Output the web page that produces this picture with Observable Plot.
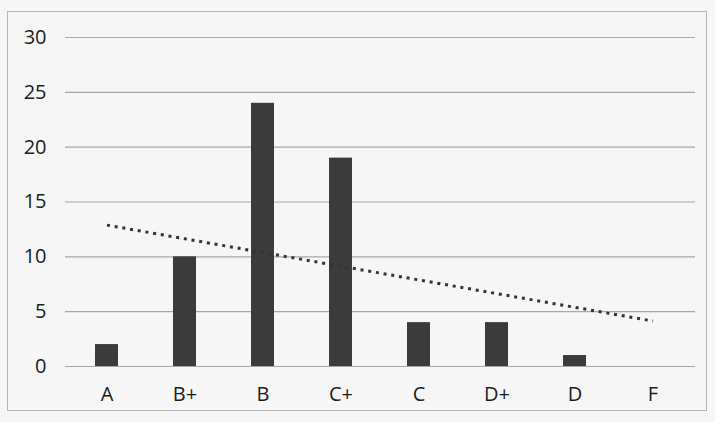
<!DOCTYPE html>
<html>
<head>
<meta charset="utf-8">
<script src="https://cdn.jsdelivr.net/npm/d3@7"></script>
<script src="https://cdn.jsdelivr.net/npm/@observablehq/plot@0.6"></script>
<style>
  html, body { margin: 0; padding: 0; background: #f6f6f6; }
  #wrap { position: relative; width: 715px; height: 422px; }
  #frame { position: absolute; left: 7px; top: 11px; width: 700px; height: 400px; border: 1px solid #b5b5b5; box-sizing: border-box; }
  #chart { position: absolute; left: 0; top: 0; }
</style>
</head>
<body>
<div id="wrap"><div id="frame"></div><div id="chart"></div></div>
<script>
const grades = ["A", "B+", "B", "C+", "C", "D+", "D", "F"];
const counts = [2, 10, 24, 19, 4, 4, 1];
const yTicks = [0, 5, 10, 15, 20, 25, 30];

const bars = counts.map((c, i) => ({grade: grades[i], count: c}));

// linear trend line (least squares over the grades that have a count), extended to all grades
const xs = counts.map((_, i) => i + 1);
const mx = d3.mean(xs), my = d3.mean(counts);
const slope = d3.sum(xs, (x, i) => (x - mx) * (counts[i] - my)) / d3.sum(xs, x => (x - mx) ** 2);
const intercept = my - slope * mx;
const trend = grades.map((g, i) => ({grade: g, value: intercept + slope * (i + 1)}));

const chart = Plot.plot({
  width: 715,
  height: 422,
  marginLeft: 65,
  marginRight: 20,
  marginTop: 37,
  marginBottom: 56,
  style: {background: "transparent", fontFamily: "'Open Sans', sans-serif", fontSize: "20px", color: "#1c1c1c"},
  x: {domain: grades, paddingInner: 0.7, paddingOuter: 0.35, label: null},
  y: {domain: [0, 30], label: null},
  marks: [
    Plot.ruleY(yTicks, {stroke: "#a8a8a8", strokeWidth: 1.2}),
    Plot.axisY(yTicks, {fontSize: 20, tickSize: 0, tickPadding: 19, label: null, fill: "#1c1c1c"}),
    Plot.axisX({fontSize: 20, tickSize: 0, tickPadding: 20, label: null, fill: "#1c1c1c"}),
    Plot.barY(bars, {x: "grade", y: "count", fill: "#3b3b3b"}),
    Plot.line(trend, {x: "grade", y: "value", stroke: "#333", strokeWidth: 3, strokeDasharray: "3 4.8", strokeLinecap: "butt"})
  ]
});
document.getElementById("chart").appendChild(chart);
</script>
</body>
</html>
